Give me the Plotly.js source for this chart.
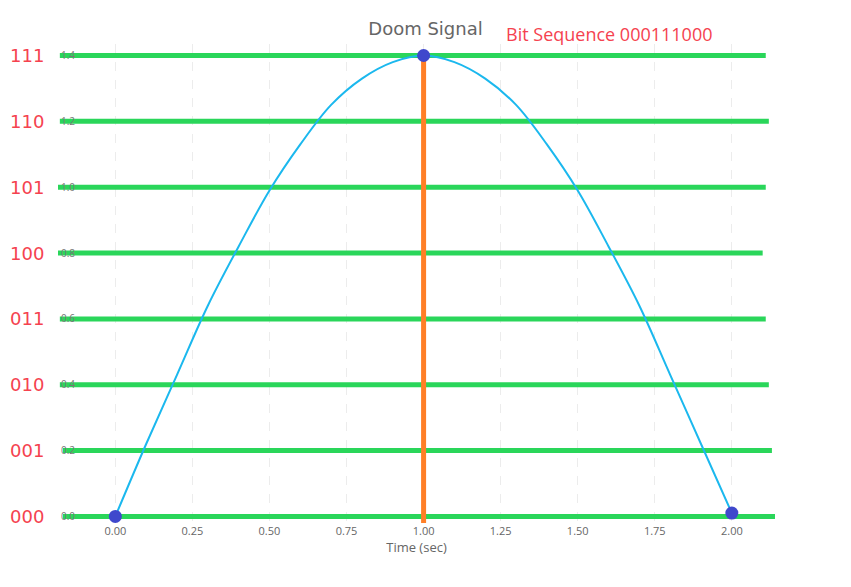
<!DOCTYPE html>
<html>
<head>
<meta charset="utf-8">
<script src="https://cdn.plot.ly/plotly-3.0.1.min.js"></script>
<style>body{margin:0;background:#fff}</style>
</head>
<body>
<div id="chart" style="width:851px;height:587px"></div>
<script>
// signal curve
const timeX = [0,0.1,0.2,0.3,0.4,0.5,0.6,0.7,0.8,0.9,1.0,1.1,1.2,1.3,1.4,1.5,1.6,1.7,1.8,1.9,2.0];
const signalY = [0,0.22,0.43,0.64,0.82,0.99,1.13,1.25,1.33,1.38,1.4,1.38,1.33,1.25,1.13,0.99,0.82,0.64,0.43,0.22,0.01];
// sample points
const sampleX = [0, 1, 2];
const sampleY = [0, 1.4, 0.01];
// quantization levels
const levelY = [0, 0.2, 0.4, 0.6, 0.8, 1.0, 1.2, 1.4];
const levelEnd = [2.14, 2.13, 2.12, 2.11, 2.1, 2.11, 2.12, 2.11];
const levelStart = [-0.17, -0.17, -0.18, -0.18, -0.19, -0.19, -0.18, -0.18];
const levelCodes = ['000','001','010','011','100','101','110','111'];
const seqText = 'Bit Sequence 000111000';

const traces = [];
levelY.forEach((y,i)=>{
  traces.push({x:[levelStart[i], levelEnd[i]], y:[y,y], mode:'lines',
    line:{color:'#2ad65a', width:5}, showlegend:false, hoverinfo:'skip'});
});
traces.push({x:timeX, y:signalY, mode:'lines', line:{color:'#1bb8ee', width:2, shape:'spline'}, showlegend:false});
traces.push({x:[1,1], y:[-0.02,1.4], mode:'lines', line:{color:'#ff7f27', width:5}, showlegend:false});
traces.push({x:sampleX, y:sampleY, mode:'markers', marker:{color:'#3f48cc', size:13}, showlegend:false});

const annotations = levelCodes.map((c,i)=>({
  xref:'paper', yref:'y', x:0, y:levelY[i], xanchor:'right', xshift:-12,
  text:c, showarrow:false, font:{color:'#f5424f', size:18, family:'DejaVu Sans'}
}));
annotations.push({xref:'x', yref:'paper', x:1.6, y:1.0, yanchor:'middle', yshift:10,
  text:seqText, showarrow:false, font:{color:'#f5424f', size:18, family:'Open Sans'}});

const layout = {
  title:{text:'Doom Signal', x:0.5, y:0.962, font:{size:18, color:'#666', family:'DejaVu Sans'}},
  margin:{l:58, r:76, t:44, b:64},
  paper_bgcolor:'#fff', plot_bgcolor:'#fff',
  xaxis:{range:[-0.186,2.14], tickvals:[0,0.25,0.5,0.75,1,1.25,1.5,1.75,2],
    ticktext:['0.00','0.25','0.50','0.75','1.00','1.25','1.50','1.75','2.00'],
    showgrid:true, gridcolor:'#ececec', griddash:'dash', zeroline:false,
    title:{text:'Time (sec)', standoff:4, font:{size:13, color:'#666'}}, tickfont:{size:11, color:'#666'}},
  yaxis:{range:[-0.02,1.435], tickvals:levelY, ticktext:['0.0','0.2','0.4','0.6','0.8','1.0','1.2','1.4'],
    ticklabelposition:'inside', showgrid:false, zeroline:false, tickfont:{size:10, color:'#777'}},
  annotations
};
Plotly.newPlot('chart', traces, layout, {displayModeBar:false});
</script>
</body>
</html>
